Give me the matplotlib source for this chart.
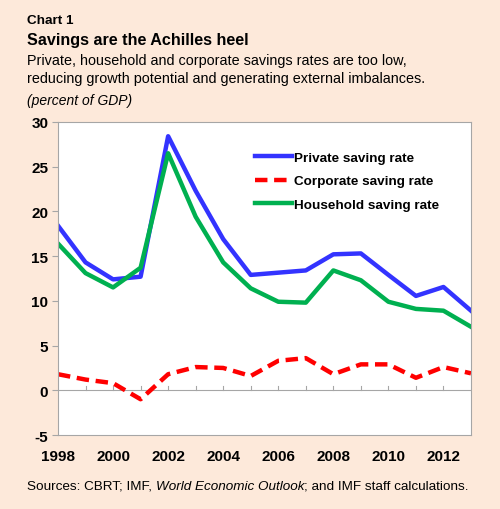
import matplotlib
matplotlib.use("Agg")
import matplotlib.pyplot as plt
import numpy as np

plt.rcParams['font.family'] = ['Liberation Sans', 'DejaVu Sans']

years = np.arange(1998, 2014)
private = [18.4, 14.3, 12.4, 12.7, 28.4, 22.3, 16.9, 12.9, 13.15, 13.4,
           15.2, 15.3, 12.9, 10.55, 11.55, 8.9]
corporate = [1.8, 1.2, 0.8, -1.0, 1.8, 2.6, 2.5, 1.6, 3.3, 3.6,
             1.8, 2.9, 2.9, 1.4, 2.6, 1.9]
household = [16.4, 13.1, 11.5, 13.7, 26.5, 19.4, 14.3, 11.4, 9.9, 9.8,
             13.4, 12.3, 9.9, 9.1, 8.9, 7.1]
xtick_years = list(range(1998, 2013, 2))
yticks = [-5, 0, 5, 10, 15, 20, 25, 30]

bg = '#FDE9DA'
grey = '#A6A6A6'

fig = plt.figure(figsize=(5, 5.1), dpi=100, facecolor=bg)
ax = fig.add_axes([0.116, 0.145, 0.826, 0.614])
ax.set_facecolor('white')

ax.plot(years, private, color='#3333FF', lw=3.2, label='Private saving rate')
ax.plot(years, corporate, color='#FF0000', lw=3.2, ls=(0, (2.8, 1.5)),
        label='Corporate saving rate')
ax.plot(years, household, color='#00B050', lw=3.2, label='Household saving rate')

ax.set_xlim(1998, 2013)
ax.set_ylim(-5, 30)
ax.axhline(0, color=grey, lw=0.8, zorder=1)
# year tick marks sitting on the zero line
for yr in years[1:-1]:
    ax.plot([yr, yr], [0, 0.45], color=grey, lw=0.8, zorder=1)

for s in ax.spines.values():
    s.set_color(grey)
    s.set_linewidth(0.8)

ax.set_yticks(yticks)
ax.set_yticklabels([str(v) for v in yticks], fontsize=11, fontweight='bold')
ax.tick_params(axis='y', length=4, color=grey, direction='out', pad=3)
ax.set_xticks(xtick_years)
ax.set_xticklabels([str(v) for v in xtick_years], fontsize=11, fontweight='bold')
ax.tick_params(axis='x', length=0, pad=10)

leg = ax.legend(loc='upper left', bbox_to_anchor=(0.465, 0.922), frameon=False,
                prop={'size': 9.7, 'weight': 'bold'}, handlelength=2.7,
                handletextpad=0.15, labelspacing=0.8, borderaxespad=0)

fig.text(0.054, 0.958, 'Chart 1', fontsize=9.7, fontweight='bold', va='center')
fig.text(0.054, 0.920, 'Savings are the Achilles heel', fontsize=11.6,
         fontweight='bold', va='center')
fig.text(0.054, 0.881, 'Private, household and corporate savings rates are too low,',
         fontsize=10.4, va='center')
fig.text(0.054, 0.846, 'reducing growth potential and generating external imbalances.',
         fontsize=10.4, va='center')
fig.text(0.054, 0.801, '(percent of GDP)', fontsize=10, style='italic', va='center')

# sources line with italic publication name
fig.canvas.draw()
r = fig.canvas.get_renderer()
x0 = 0.054
parts = [('Sources: CBRT; IMF, ', 'normal'), ('World Economic Outlook', 'italic'),
         ('; and IMF staff calculations.', 'normal')]
for txt, st in parts:
    t = fig.text(x0, 0.046, txt, fontsize=9.7, style=st, va='center')
    bb = t.get_window_extent(renderer=r)
    x0 += bb.width / fig.bbox.width

fig.savefig('out.png', dpi=100, facecolor=bg)
